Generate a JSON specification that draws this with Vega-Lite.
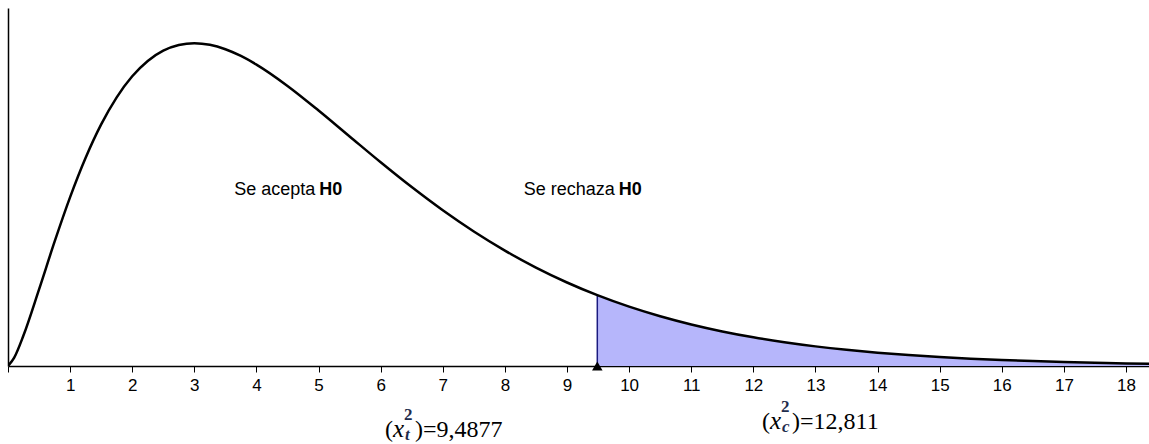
{
  "$schema": "https://vega.github.io/schema/vega-lite/v6.json",
  "width": 1141,
  "height": 358,
  "autosize": "none",
  "padding": {"left": 8, "top": 8, "right": 0, "bottom": 78},
  "background": "white",
  "config": {"view": {"stroke": null}},
  "datasets": {
    "curve": [
      {"x": 0, "y": 0},
      {"x": 0.1, "y": 0.0040},
      {"x": 0.25, "y": 0.014669},
      {"x": 0.5, "y": 0.036616},
      {"x": 0.75, "y": 0.059364},
      {"x": 1, "y": 0.080657},
      {"x": 1.25, "y": 0.099476},
      {"x": 1.5, "y": 0.1154},
      {"x": 1.75, "y": 0.128333},
      {"x": 2, "y": 0.13837},
      {"x": 2.25, "y": 0.145707},
      {"x": 2.5, "y": 0.150602},
      {"x": 2.75, "y": 0.153333},
      {"x": 3, "y": 0.154182},
      {"x": 3.25, "y": 0.153423},
      {"x": 3.5, "y": 0.151314},
      {"x": 3.75, "y": 0.148093},
      {"x": 4, "y": 0.143976},
      {"x": 4.5, "y": 0.133797},
      {"x": 5, "y": 0.122041},
      {"x": 5.5, "y": 0.109653},
      {"x": 6, "y": 0.097304},
      {"x": 6.5, "y": 0.085448},
      {"x": 7, "y": 0.07437},
      {"x": 7.5, "y": 0.064237},
      {"x": 8, "y": 0.055113},
      {"x": 8.5, "y": 0.047007},
      {"x": 9, "y": 0.039887},
      {"x": 9.4877, "y": 0.03383},
      {"x": 10, "y": 0.028334},
      {"x": 10.5, "y": 0.023742},
      {"x": 11, "y": 0.019827},
      {"x": 11.5, "y": 0.016506},
      {"x": 12, "y": 0.013703},
      {"x": 12.5, "y": 0.011346},
      {"x": 13, "y": 0.009371},
      {"x": 13.5, "y": 0.007723},
      {"x": 14, "y": 0.006352},
      {"x": 14.5, "y": 0.005214},
      {"x": 15, "y": 0.004273},
      {"x": 15.5, "y": 0.003495},
      {"x": 16, "y": 0.002855},
      {"x": 16.5, "y": 0.002329},
      {"x": 17, "y": 0.001897},
      {"x": 17.5, "y": 0.001543},
      {"x": 18, "y": 0.001253},
      {"x": 18.5, "y": 0.001017}
    ],
    "crit": [{"x": 9.4877, "y": 0, "y2": 0.03383}],
    "zones": [
      {"x": 4.98, "y": 0.0819, "text": "Se acepta"},
      {"x": 9.8, "y": 0.0819, "text": "Se rechaza"}
    ],
    "labels": [
      {"x": 6.07, "y": -0.0337, "sub": "t", "value": "=9,4877"},
      {"x": 12.14, "y": -0.0303, "sub": "c", "value": "=12,811"}
    ]
  },
  "encoding": {
    "x": {
      "field": "x",
      "type": "quantitative",
      "scale": {"domain": [0, 18.37], "nice": false, "zero": false},
      "axis": {
        "values": [0, 1, 2, 3, 4, 5, 6, 7, 8, 9, 10, 11, 12, 13, 14, 15, 16, 17, 18],
        "labelExpr": "datum.value == 0 ? '' : datum.label",
        "title": null,
        "grid": false,
        "domainColor": "black",
        "domainWidth": 1.5,
        "tickColor": "black",
        "tickSize": 6,
        "tickWidth": 1,
        "labelFont": "Liberation Sans",
        "labelFontSize": 17,
        "labelColor": "black",
        "labelPadding": 5,
        "labelFlush": false,
        "labelOverlap": false
      }
    },
    "y": {
      "field": "y",
      "type": "quantitative",
      "scale": {"domain": [0, 0.171], "nice": false},
      "axis": {
        "title": null,
        "grid": false,
        "ticks": false,
        "labels": false,
        "domainColor": "black",
        "domainWidth": 1.5
      }
    }
  },
  "layer": [
    {
      "data": {"name": "curve"},
      "transform": [{"filter": {"field": "x", "gte": 9.4877}}],
      "mark": {"type": "area", "color": "#b6b6fb", "interpolate": "monotone", "clip": true}
    },
    {
      "data": {"name": "crit"},
      "mark": {"type": "rule", "color": "#1a1a80", "strokeWidth": 1.5},
      "encoding": {"y2": {"field": "y2"}}
    },
    {
      "data": {"name": "curve"},
      "mark": {"type": "line", "color": "black", "strokeWidth": 2.5, "interpolate": "monotone", "clip": true}
    },
    {
      "data": {"name": "crit"},
      "mark": {"type": "point", "shape": "triangle-up", "size": 110, "filled": true, "color": "black", "opacity": 1}
    },
    {
      "data": {"name": "zones"},
      "mark": {"type": "text", "align": "right", "baseline": "alphabetic", "font": "Liberation Sans", "fontSize": 18, "color": "black", "dx": -2},
      "encoding": {"text": {"field": "text"}}
    },
    {
      "data": {"name": "zones"},
      "mark": {"type": "text", "align": "left", "baseline": "alphabetic", "font": "Liberation Sans", "fontSize": 18, "fontWeight": "bold", "color": "black", "dx": 2},
      "encoding": {"text": {"value": "H0"}}
    },
    {
      "data": {"name": "labels"},
      "mark": {"type": "text", "align": "left", "baseline": "alphabetic", "font": "Liberation Serif", "fontSize": 24, "color": "black", "dx": 0},
      "encoding": {"text": {"value": "("}}
    },
    {
      "data": {"name": "labels"},
      "mark": {"type": "text", "align": "left", "baseline": "alphabetic", "font": "Liberation Serif", "fontSize": 25, "fontStyle": "italic", "color": "black", "dx": 8},
      "encoding": {"text": {"value": "x"}}
    },
    {
      "data": {"name": "labels"},
      "mark": {"type": "text", "align": "left", "baseline": "alphabetic", "font": "Liberation Serif", "fontSize": 17, "fontWeight": "bold", "color": "#1f2d4d", "dx": 19, "dy": -17},
      "encoding": {"text": {"value": "2"}}
    },
    {
      "data": {"name": "labels"},
      "mark": {"type": "text", "align": "left", "baseline": "alphabetic", "font": "Liberation Serif", "fontSize": 17, "fontWeight": "bold", "fontStyle": "italic", "color": "#1f2d4d", "dx": 20, "dy": 3},
      "encoding": {"text": {"field": "sub"}}
    },
    {
      "data": {"name": "labels"},
      "mark": {"type": "text", "align": "left", "baseline": "alphabetic", "font": "Liberation Serif", "fontSize": 24, "color": "black", "dx": 30},
      "encoding": {"text": {"value": ")"}}
    },
    {
      "data": {"name": "labels"},
      "mark": {"type": "text", "align": "left", "baseline": "alphabetic", "font": "Liberation Serif", "fontSize": 24, "color": "black", "dx": 38},
      "encoding": {"text": {"field": "value"}}
    }
  ]
}
